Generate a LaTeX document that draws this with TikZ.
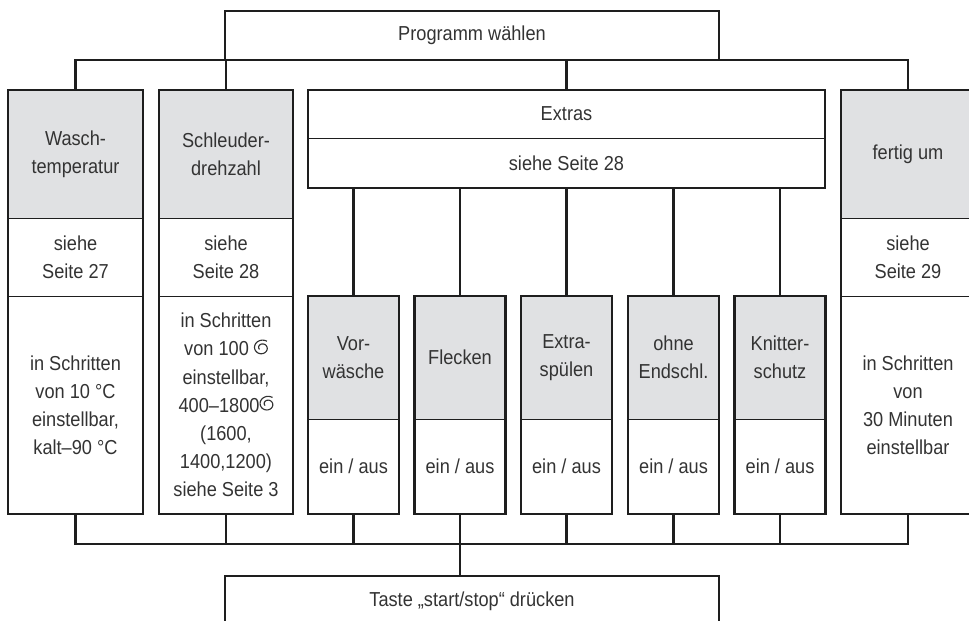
\documentclass[tikz,border=0pt]{standalone}
\usepackage{fontspec}
\setmainfont{Liberation Sans}[FakeStretch=0.9]
\usetikzlibrary{positioning}
\definecolor{wmgray}{HTML}{E0E1E3}
\definecolor{wmline}{HTML}{1E1E1E}
\definecolor{wmtext}{HTML}{333333}
% spin-speed sign (spiral), drawn at text size
\newcommand{\spin}{\tikz[baseline=0pt]\draw[wmtext,line width=0.65pt]
 plot[domain=0:1,samples=60,smooth,variable=\s]
 ({5.4pt+5pt*(1-0.68*\s)*cos(55+520*\s)},{4.6pt+4.6pt*(1-0.68*\s)*sin(55+520*\s)});}

\begin{document}
\begin{tikzpicture}[x=0.02cm,y=-0.02cm,
 font=\fontsize{11.5}{16}\selectfont,text=wmtext,
 cell/.style={draw=wmline,line width=0.5pt,inner sep=0pt,outer sep=0pt,align=center},
 headcell/.style={cell,fill=wmgray},
 frame/.style={draw=wmline,line width=1.3pt},
 box/.style={cell,line width=1.3pt},
 link/.style={wmline,line width=1.3pt}]
\useasboundingbox (0,0) rectangle (969,620);
\coordinate (bus) at (460,544);
\node[box,minimum width=9.88cm,minimum height=0.98cm] (prog) at (472,35.5) {Programm wählen};
\node[box,minimum width=9.88cm,minimum height=1cm] (taste) at (472,601) {Taste „start/stop“ drücken};
% the three tall columns
\foreach \n/\x/\hd/\sd/\bd in {
 wasch/75.5/{Wasch-\\temperatur}/{siehe\\Seite 27}/{in Schritten\\von 10 °C\\einstellbar,\\kalt–90 °C},
 schleu/226/{Schleuder-\\drehzahl}/{siehe\\Seite 28}/{in Schritten\\von 100 \spin\\einstellbar,\\400–1800\spin\\(1600,\\1400,1200)\\siehe Seite 3},
 fertig/908/{fertig um}/{siehe\\Seite 29}/{in Schritten\\von\\30 Minuten\\einstellbar}} {
 \node[headcell,minimum width=2.69cm,minimum height=2.56cm] (\n-head) at (\x,154) {\hd};
 \node[cell,minimum width=2.69cm,minimum height=1.56cm,below=0pt of \n-head] (\n-ref) {\sd};
 \node[cell,minimum width=2.69cm,minimum height=4.36cm,below=0pt of \n-ref] (\n-body) {\bd};
 \draw[frame] (\n-head.north west) rectangle (\n-body.south east);
}
\node[cell,minimum width=10.34cm,minimum height=0.96cm] (extras) at (566.5,114) {Extras};
\node[cell,minimum width=10.34cm,minimum height=1cm,below=0pt of extras] (extras-ref) {siehe Seite 28};
\draw[frame] (extras.north west) rectangle (extras-ref.south east);
% the five switches under Extras
\foreach \n/\x/\hd in {vor/353.5/{Vor-\\wäsche}, flecken/460/Flecken,
 spuelen/566.5/{Extra-\\spülen}, endschl/673.5/{ohne\\Endschl.}, knitter/780/{Knitter-\\schutz}} {
 \node[headcell,minimum width=1.82cm,minimum height=2.46cm] (\n) at (\x,357.5) {\hd};
 \node[cell,minimum width=1.82cm,minimum height=1.9cm,below=0pt of \n] (\n-sw) {ein / aus};
 \draw[frame] (\n.north west) rectangle (\n-sw.south east);
 \draw[link] (extras-ref.south -| \n.north) -- (\n.north);
 \draw[link] (\n-sw.south) -- (\n-sw.south |- bus);
}
\draw[link] (wasch-head.north) |- (prog.south) -| (fertig-head.north);
\draw[link] (schleu-head.north) -- (schleu-head.north |- prog.south);
\draw[link] (extras.north) -- (extras.north |- prog.south);
\draw[link] (wasch-body.south) |- (bus) -| (fertig-body.south);
\draw[link] (schleu-body.south) -- (schleu-body.south |- bus);
\draw[link] (bus) -- (bus |- taste.north);
\end{tikzpicture}
\end{document}
